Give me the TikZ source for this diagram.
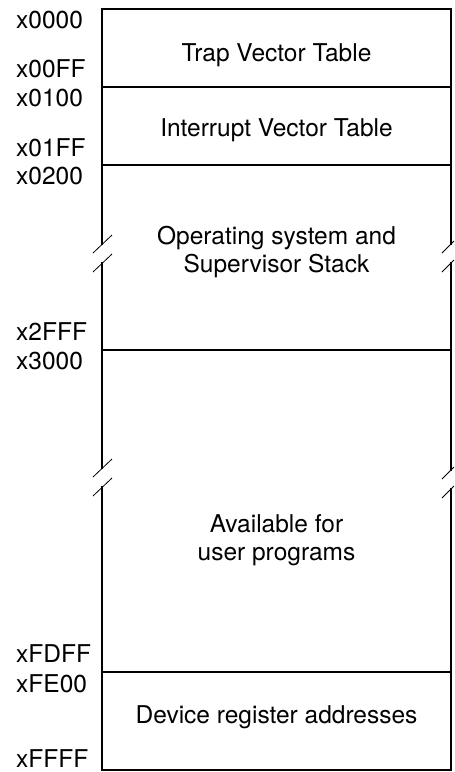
\documentclass[tikz,border=0pt]{standalone}
\usepackage{fontspec}
\setmainfont{TeX Gyre Heros}

\begin{document}
\begin{tikzpicture}[x=1pt, y=-1pt,
    region/.style={font=\fontsize{24.5}{28}\selectfont, align=center, inner sep=0pt},
    addr/.style={font=\fontsize{24.5}{28}\selectfont, anchor=base west, inner sep=0pt},
    wall/.style={line width=1.2pt, line cap=rect},
    brk/.style={line width=0.8pt}
]
\useasboundingbox (0,0) rectangle (455,772);

% region boundaries
\coordinate (top0)  at (102,9);    \coordinate (top1)  at (451,9);
\coordinate (trap0) at (102,87);   \coordinate (trap1) at (451,87);
\coordinate (ivt0)  at (102,165);  \coordinate (ivt1)  at (451,165);
\coordinate (os0)   at (102,350);  \coordinate (os1)   at (451,350);
\coordinate (usr0)  at (102,672);  \coordinate (usr1)  at (451,672);
\coordinate (bot0)  at (102,770);  \coordinate (bot1)  at (451,770);

% break points on the side walls
\coordinate (la) at (102,244);  \coordinate (lb) at (102,263);
\coordinate (lc) at (102,468);  \coordinate (ld) at (102,487);
\coordinate (ra) at (451,244);  \coordinate (rb) at (451,263);
\coordinate (rc) at (451,470);  \coordinate (rd) at (451,489);

\draw[wall] (top0) -- (top1);
\draw[wall] (trap0) -- (trap1);
\draw[wall] (ivt0) -- (ivt1);
\draw[wall] (os0) -- (os1);
\draw[wall] (usr0) -- (usr1);
\draw[wall] (bot0) -- (bot1);

\draw[wall] (top0) -- (la);
\draw[wall] (lb) -- (lc);
\draw[wall] (ld) -- (bot0);
\draw[wall] (top1) -- (ra);
\draw[wall] (rb) -- (rc);
\draw[wall] (rd) -- (bot1);

% break marks
\draw[brk] ([shift={(-9,9)}]la) -- ([shift={(10,-9)}]la);
\draw[brk] ([shift={(-9,9)}]lb) -- ([shift={(10,-9)}]lb);
\draw[brk] ([shift={(-9,9)}]lc) -- ([shift={(10,-9)}]lc);
\draw[brk] ([shift={(-9,9)}]ld) -- ([shift={(10,-9)}]ld);
\draw[brk] ([shift={(-9,9)}]ra) -- ([shift={(3,-3)}]ra);
\draw[brk] ([shift={(-9,9)}]rb) -- ([shift={(3,-3)}]rb);
\draw[brk] ([shift={(-9,9)}]rc) -- ([shift={(3,-3)}]rc);
\draw[brk] ([shift={(-9,9)}]rd) -- ([shift={(3,-3)}]rd);

% region names
\node[region] (trap) at (276.5,55) {Trap Vector Table};
\node[region] (ivt)  at (276.5,130) {Interrupt Vector Table};
\node[region] (os)   at (276.5,252) {Operating system and\\Supervisor Stack};
\node[region] (usr)  at (276.5,540) {Available for\\user programs};
\node[region] (dev)  at (276.5,717) {Device register addresses};

% addresses
\node[addr] (a0000) at (16,28)  {x0000};
\node[addr] (a00FF) at (16,77)  {x00FF};
\node[addr] (a0100) at (16,106) {x0100};
\node[addr] (a01FF) at (16,156) {x01FF};
\node[addr] (a0200) at (16,184) {x0200};
\node[addr] (a2FFF) at (16,340) {x2FFF};
\node[addr] (a3000) at (16,369) {x3000};
\node[addr] (aFDFF) at (16,662) {xFDFF};
\node[addr] (aFE00) at (16,692) {xFE00};
\node[addr] (aFFFF) at (16,767) {xFFFF};
\end{tikzpicture}
\end{document}
